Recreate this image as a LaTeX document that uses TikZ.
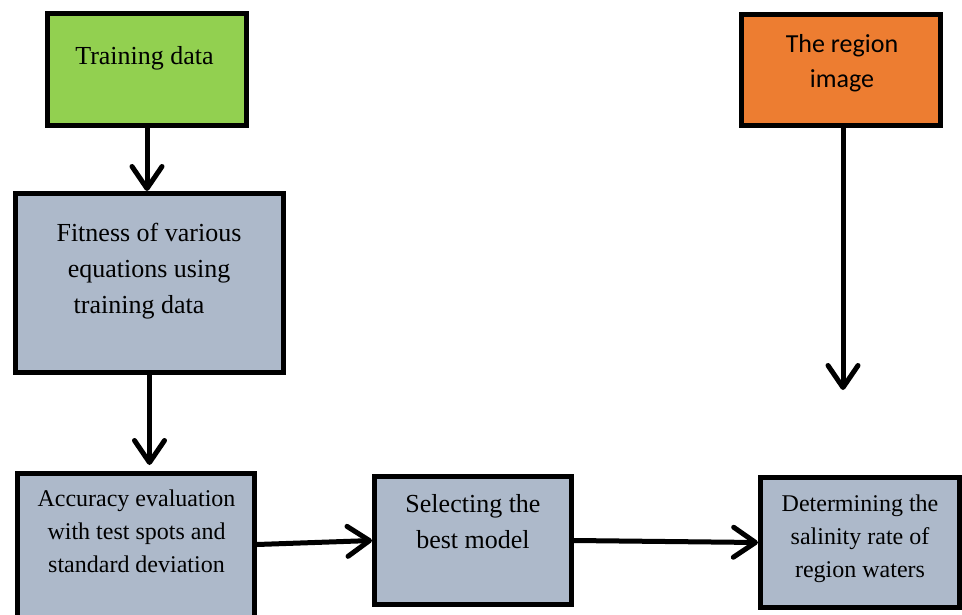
\documentclass[tikz,border=0pt]{standalone}
\usepackage{fontspec}
\setmainfont{Liberation Serif}
\newfontfamily\calib{Carlito}
\usetikzlibrary{arrows.meta}
\definecolor{boxgreen}{HTML}{92D050}
\definecolor{boxorange}{HTML}{ED7D31}
\definecolor{boxgray}{HTML}{ADB9CA}
\tikzset{
  box/.style={draw=black, line width=5pt, rectangle, inner sep=0pt},
  txt/.style={inner sep=0pt, align=center, anchor=base, text=black},
  big/.style={font=\fontsize{26}{36}\selectfont},
  small/.style={font=\fontsize{24}{33}\selectfont},
  arr/.style={line width=5pt, line cap=round, -{Straight Barb[length=22pt, width=30pt, line cap=round, line join=round]}},
}
\begin{document}
\begin{tikzpicture}[x=1pt, y=-1pt]
\useasboundingbox (0,0) rectangle (962,614);
% boxes
\node[box, fill=boxgreen, minimum width=199pt, minimum height=112pt] (train) at (147,69.5) {};
\node[box, fill=boxorange, minimum width=199pt, minimum height=111pt] (reg) at (841,70) {};
\node[box, fill=boxgray, minimum width=268pt, minimum height=179pt] (fit) at (149.5,283) {};
\node[box, fill=boxgray, minimum width=237pt, minimum height=148pt] (acc) at (136,547.5) {};
\node[box, fill=boxgray, minimum width=197pt, minimum height=128pt] (sel) at (473,540.5) {};
\node[box, fill=boxgray, minimum width=199pt, minimum height=130pt] (det) at (860,542.5) {};
% texts (anchor=base is the baseline of the last line)
\node[txt, big] (ttrain) at (144.5,64) {Training data};
\node[txt, font=\calib\fontsize{26}{35}\selectfont] (treg) at (842,87) {The region\\image};
\node[txt, big] (tfit) at (149,313) {Fitness of various\\equations using\\training data\rule{20pt}{0pt}};
\node[txt, small] (tacc) at (136.5,572) {Accuracy evaluation\\with test spots and\\standard deviation};
\node[txt, big] (tsel) at (473,548) {Selecting the\\best model};
\node[txt, small] (tdet) at (860,577) {Determining the\\salinity rate of\\region waters};
% connectors
\coordinate (regend) at (843,390);
\draw[arr] (train.south) -- (train.south |- fit.north);
\draw[arr, shorten >=6pt] (fit.south) -- (fit.south |- acc.north);
\draw[arr] ([yshift=-4pt]acc.east |- sel.west) -- (sel.west);
\draw[arr] (sel.east) -- (det.west);
\draw[arr] (reg.south -| regend) -- (regend);
\end{tikzpicture}
\end{document}
